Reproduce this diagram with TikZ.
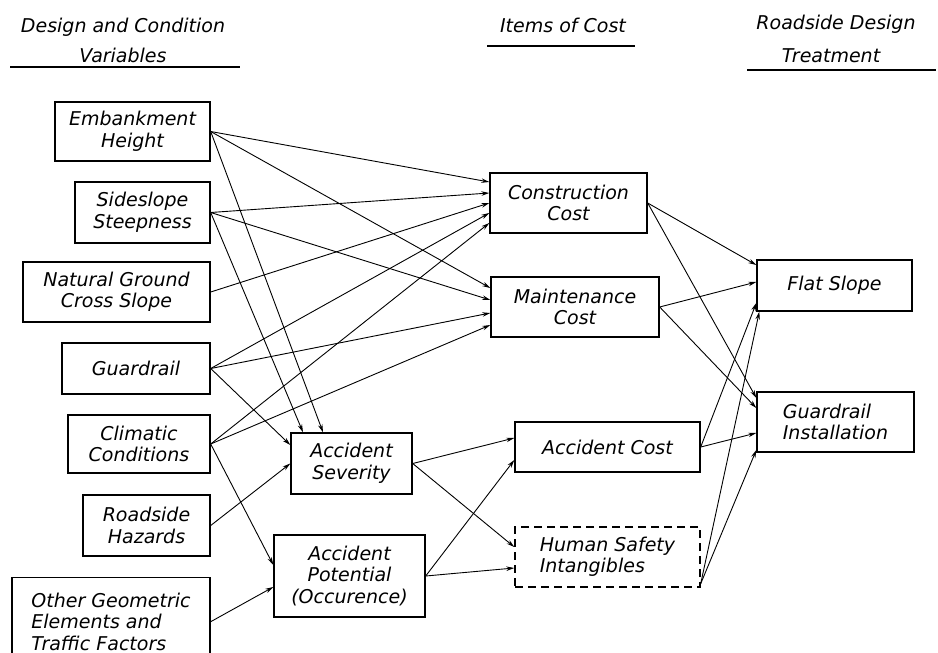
\documentclass[tikz,border=0pt]{standalone}
\usepackage{fontspec}
\setmainfont{DejaVu Sans}
\usetikzlibrary{arrows.meta}
\newcommand\dfont{\fontsize{19}{21.5}\selectfont\itshape}
\begin{document}
\begin{tikzpicture}[x=1pt,y=-1pt,
 box/.style={draw,line width=1.4pt,inner sep=0pt,align=center,font=\dfont},
 arr/.style={line width=0.9pt,-{Stealth[length=8pt,width=4.5pt]}},
 hdr/.style={font=\dfont,inner sep=0pt,align=center},
 uline/.style={line width=1.6pt}]
\useasboundingbox (0,0) rectangle (938,653);
\clip (0,0) rectangle (938,653);
% headers
\node[hdr,anchor=base] (h1a) at (123,32) {Design and Condition};
\node[hdr,anchor=base] (h1b) at (123,62) {Variables};
\coordinate (u1a) at (10,67); \coordinate (u1b) at (240,67);
\draw[uline] (u1a) -- (u1b);
\node[hdr,anchor=base] (h2) at (563,32) {Items of Cost};
\coordinate (u2a) at (487,46); \coordinate (u2b) at (635,46);
\draw[uline] (u2a) -- (u2b);
\node[hdr,anchor=base] (h3a) at (836,30) {Roadside Design};
\node[hdr,anchor=base] (h3b) at (831,62) {Treatment};
\coordinate (u3a) at (747,70); \coordinate (u3b) at (936,70);
\draw[uline] (u3a) -- (u3b);
% left column
\node[box,minimum width=155pt,minimum height=59pt] (emb) at (132.5,131.5) {Embankment\\Height};
\node[box,minimum width=135pt,minimum height=61pt] (side) at (142.5,212.5) {Sideslope\\Steepness};
\node[box,minimum width=187pt,minimum height=60pt] (nat) at (116.5,292) {Natural Ground\\Cross Slope};
\node[box,minimum width=148pt,minimum height=51pt] (guard) at (136,368.5) {Guardrail};
\node[box,minimum width=142pt,minimum height=58pt] (clim) at (139,444) {Climatic\\Conditions};
\node[box,minimum width=127pt,minimum height=61pt] (road) at (146.5,525.5) {Roadside\\Hazards};
\node[box,align=left,anchor=north,minimum width=198pt,minimum height=88pt] (other) at (111,577) {Other Geometric\\Elements and\\Traffic Factors};
% accident
\node[box,minimum width=121pt,minimum height=61pt] (sev) at (351.5,463.5) {Accident\\Severity};
\node[box,minimum width=151pt,minimum height=82pt] (pot) at (349.5,576) {Accident\\Potential\\(Occurence)};
% costs
\node[box,minimum width=157pt,minimum height=60pt] (cons) at (568.5,203) {Construction\\Cost};
\node[box,minimum width=168pt,minimum height=60pt] (maint) at (575,307) {Maintenance\\Cost};
\node[box,minimum width=185pt,minimum height=50pt] (acc) at (607.5,447) {Accident Cost};
\node[box,dash pattern=on 8pt off 5pt,align=left,minimum width=185pt,minimum height=60pt] (hum) at (607.5,557) {Human Safety\\Intangibles};
% treatments
\node[box,minimum width=155pt,minimum height=51pt] (flat) at (834.5,285.5) {Flat Slope};
\node[box,align=left,minimum width=157pt,minimum height=60pt] (gi) at (835.5,422) {Guardrail\\Installation};
% connectors
\draw[arr] (emb.east) -- ([yshift=21pt]cons.west);
\draw[arr] (emb.east) -- ([yshift=19pt]maint.west);
\draw[arr] (emb.east) -- ([xshift=-28.5pt]sev.north);
\draw[arr] (side.east) -- ([yshift=10pt]cons.west);
\draw[arr] (side.east) -- ([yshift=7pt]maint.west);
\draw[arr] (side.east) -- ([xshift=-48.5pt]sev.north);
\draw[arr] (nat.east) -- (cons.west);
\draw[arr] (guard.east) -- ([yshift=-10pt]cons.west);
\draw[arr] (guard.east) -- ([yshift=-6pt]maint.west);
\draw[arr] (guard.east) -- ([yshift=18.5pt]sev.west);
\draw[arr] (clim.east) -- ([yshift=-20pt]cons.west);
\draw[arr] (clim.east) -- ([yshift=-18pt]maint.west);
\draw[arr] (clim.east) -- ([yshift=11pt]pot.west);
\draw[arr] (road.east) -- (sev.west);
\draw[arr] (other.east) -- ([yshift=-11pt]pot.west);
\draw[arr] (sev.east) -- ([yshift=9pt]acc.west);
\draw[arr] (sev.east) -- ([yshift=10pt]hum.west);
\draw[arr] (pot.east) -- ([yshift=-13pt]acc.west);
\draw[arr] (pot.east) -- ([yshift=-11pt]hum.west);
\draw[arr] (cons.east) -- ([yshift=20.5pt]flat.west);
\draw[arr] (cons.east) -- ([yshift=24pt]gi.west);
\draw[arr] (maint.east) -- ([yshift=3.5pt]flat.west);
\draw[arr] (maint.east) -- ([yshift=14pt]gi.west);
\draw[arr] (acc.east) -- ([yshift=-17.5pt]flat.west);
\draw[arr] (acc.east) -- ([yshift=-11pt]gi.west);
\draw[arr] ([yshift=4pt]hum.south east) -- ([xshift=3pt]flat.south west);
\draw[arr] ([yshift=4pt]hum.south east) -- ([yshift=-28pt]gi.west);
\end{tikzpicture}
\end{document}
